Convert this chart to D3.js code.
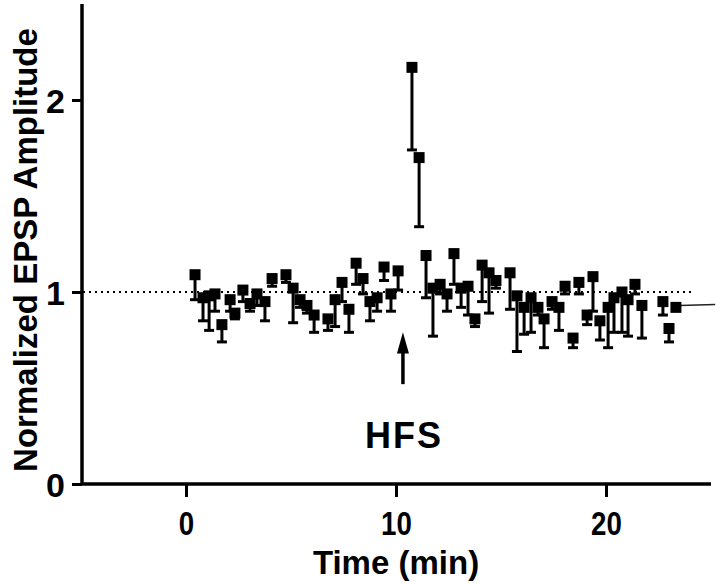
<!DOCTYPE html>
<html><head><meta charset="utf-8">
<script src="https://cdn.jsdelivr.net/npm/d3@7"></script>
<style>body{margin:0;background:#fff;}svg{display:block;}text{font-family:"Liberation Sans",Arial,sans-serif;font-weight:bold;fill:#000;}</style>
</head><body><svg id="c" width="720" height="584"></svg>
<script>
const times = [0.43,0.81,1.10,1.38,1.71,2.10,2.33,2.71,3.05,3.38,3.76,4.10,4.76,5.10,5.43,5.76,6.10,6.76,7.10,7.43,7.76,8.10,8.43,8.76,9.10,9.43,9.76,10.10,10.76,11.10,11.43,11.76,12.10,12.43,12.76,13.10,13.43,13.76,14.10,14.43,14.76,15.43,15.76,16.10,16.43,16.76,17.05,17.43,17.76,18.05,18.43,18.71,19.10,19.38,19.71,20.10,20.38,20.76,21.05,21.38,21.71,22.71,23.00,23.33];
const means = [1.09,0.97,0.98,0.99,0.83,0.96,0.89,1.01,0.94,0.99,0.95,1.07,1.09,1.02,0.96,0.93,0.88,0.86,0.96,1.05,0.91,1.15,1.07,0.95,0.97,1.13,0.99,1.11,2.17,1.70,1.19,1.02,1.04,0.99,1.20,1.02,1.03,0.86,1.14,1.10,1.06,1.10,0.98,0.92,0.97,0.92,0.86,0.95,0.92,1.03,0.76,1.05,0.88,1.08,0.85,0.92,0.97,1.00,0.96,1.04,0.93,0.95,0.81,0.92];
const lows = [0.96,0.85,0.80,0.90,0.74,0.90,0.86,0.95,0.90,0.93,0.85,1.03,1.05,0.84,0.92,0.89,0.79,0.80,0.82,0.95,0.79,1.04,0.99,0.85,0.90,1.06,0.90,1.01,1.74,1.34,0.97,0.77,0.99,0.90,1.04,0.92,0.88,0.82,0.95,0.89,1.02,0.91,0.69,0.78,0.79,0.88,0.71,0.91,0.80,0.99,0.71,0.99,0.83,0.90,0.75,0.71,0.79,0.79,0.77,0.99,0.76,0.88,0.74,0.92];
const xTicks = [0,10,20];
const yTicks = [0,1,2];
const baseline = 1;
const hfsTime = 10.33;
const xLabel = "Time (min)";
const yLabel = "Normalized EPSP Amplitude";
const hfsLabel = "HFS";

const svg = d3.select("#c");
const x = d3.scaleLinear().domain([-5,25]).range([81,711]);
const y = d3.scaleLinear().domain([0,2.5]).range([484,4]);

// axes
const xAxis = svg.append("g").attr("transform",`translate(0,${y(0)})`)
  .call(d3.axisBottom(x).tickValues(xTicks).tickSize(13).tickPadding(15).tickFormat(d3.format("d")));
xAxis.select(".domain").attr("d",`M${x(-5)},0H${x(25)}`).attr("stroke","#000").attr("stroke-width",3.5);
xAxis.selectAll(".tick line").attr("stroke","#000").attr("stroke-width",3);
xAxis.selectAll(".tick text").style("font-size","33px").attr("transform","scale(0.84,1)");

const yAxis = svg.append("g").attr("transform",`translate(${x(-5)+1},0)`)
  .call(d3.axisLeft(y).tickValues(yTicks).tickSize(10).tickPadding(7).tickFormat(d3.format("d")));
yAxis.select(".domain").attr("d",`M0,${y(2.5)}V${y(0)}`).attr("stroke","#000").attr("stroke-width",3.5);
yAxis.selectAll(".tick line").attr("stroke","#000").attr("stroke-width",3);
yAxis.selectAll(".tick text").style("font-size","34px").attr("dy","0.36em");

// baseline dotted
svg.append("line").attr("x1",x(-5)+2).attr("x2",x(24.1)).attr("y1",y(baseline)).attr("y2",y(baseline))
  .attr("stroke","#000").attr("stroke-width",2).attr("stroke-dasharray","2,4");

// trailing line at right
svg.append("line").attr("x1",x(23.5)).attr("x2",x(25.2)).attr("y1",y(0.93)).attr("y2",y(0.935))
  .attr("stroke","#222").attr("stroke-width",1.5);

const pts = times.map((t,i)=>({t, m:means[i], lo:lows[i]}));
const g = svg.append("g");
g.selectAll("line.eb").data(pts).join("line").attr("class","eb")
  .attr("x1",d=>x(d.t)).attr("x2",d=>x(d.t)).attr("y1",d=>y(d.m)).attr("y2",d=>y(d.lo))
  .attr("stroke","#000").attr("stroke-width",3);
g.selectAll("line.cap").data(pts.filter(d=>d.m-d.lo>0.02)).join("line").attr("class","cap")
  .attr("x1",d=>x(d.t)-5).attr("x2",d=>x(d.t)+5).attr("y1",d=>y(d.lo)).attr("y2",d=>y(d.lo))
  .attr("stroke","#000").attr("stroke-width",3);
g.selectAll("rect").data(pts).join("rect")
  .attr("x",d=>x(d.t)-5.5).attr("y",d=>y(d.m)-5.5).attr("width",11).attr("height",11).attr("fill","#000");

// HFS arrow
const ax = x(hfsTime);
svg.append("line").attr("x1",ax).attr("x2",ax).attr("y1",y(0.52)).attr("y2",y(0.7))
  .attr("stroke","#000").attr("stroke-width",3.5);
svg.append("path").attr("d",`M${ax},${y(0.79)}L${ax-6},${y(0.68)}L${ax+6},${y(0.68)}Z`).attr("fill","#000");
svg.append("text").attr("x",ax+1).attr("y",448).attr("text-anchor","middle").style("font-size","36px").style("letter-spacing","2px").text(hfsLabel);

// axis titles
svg.append("text").attr("x",396).attr("y",574).attr("text-anchor","middle").style("font-size","33px").text(xLabel);
svg.append("text").attr("transform",`translate(37,250) rotate(-90)`).attr("text-anchor","middle").style("font-size","33px").text(yLabel);
</script></body></html>
